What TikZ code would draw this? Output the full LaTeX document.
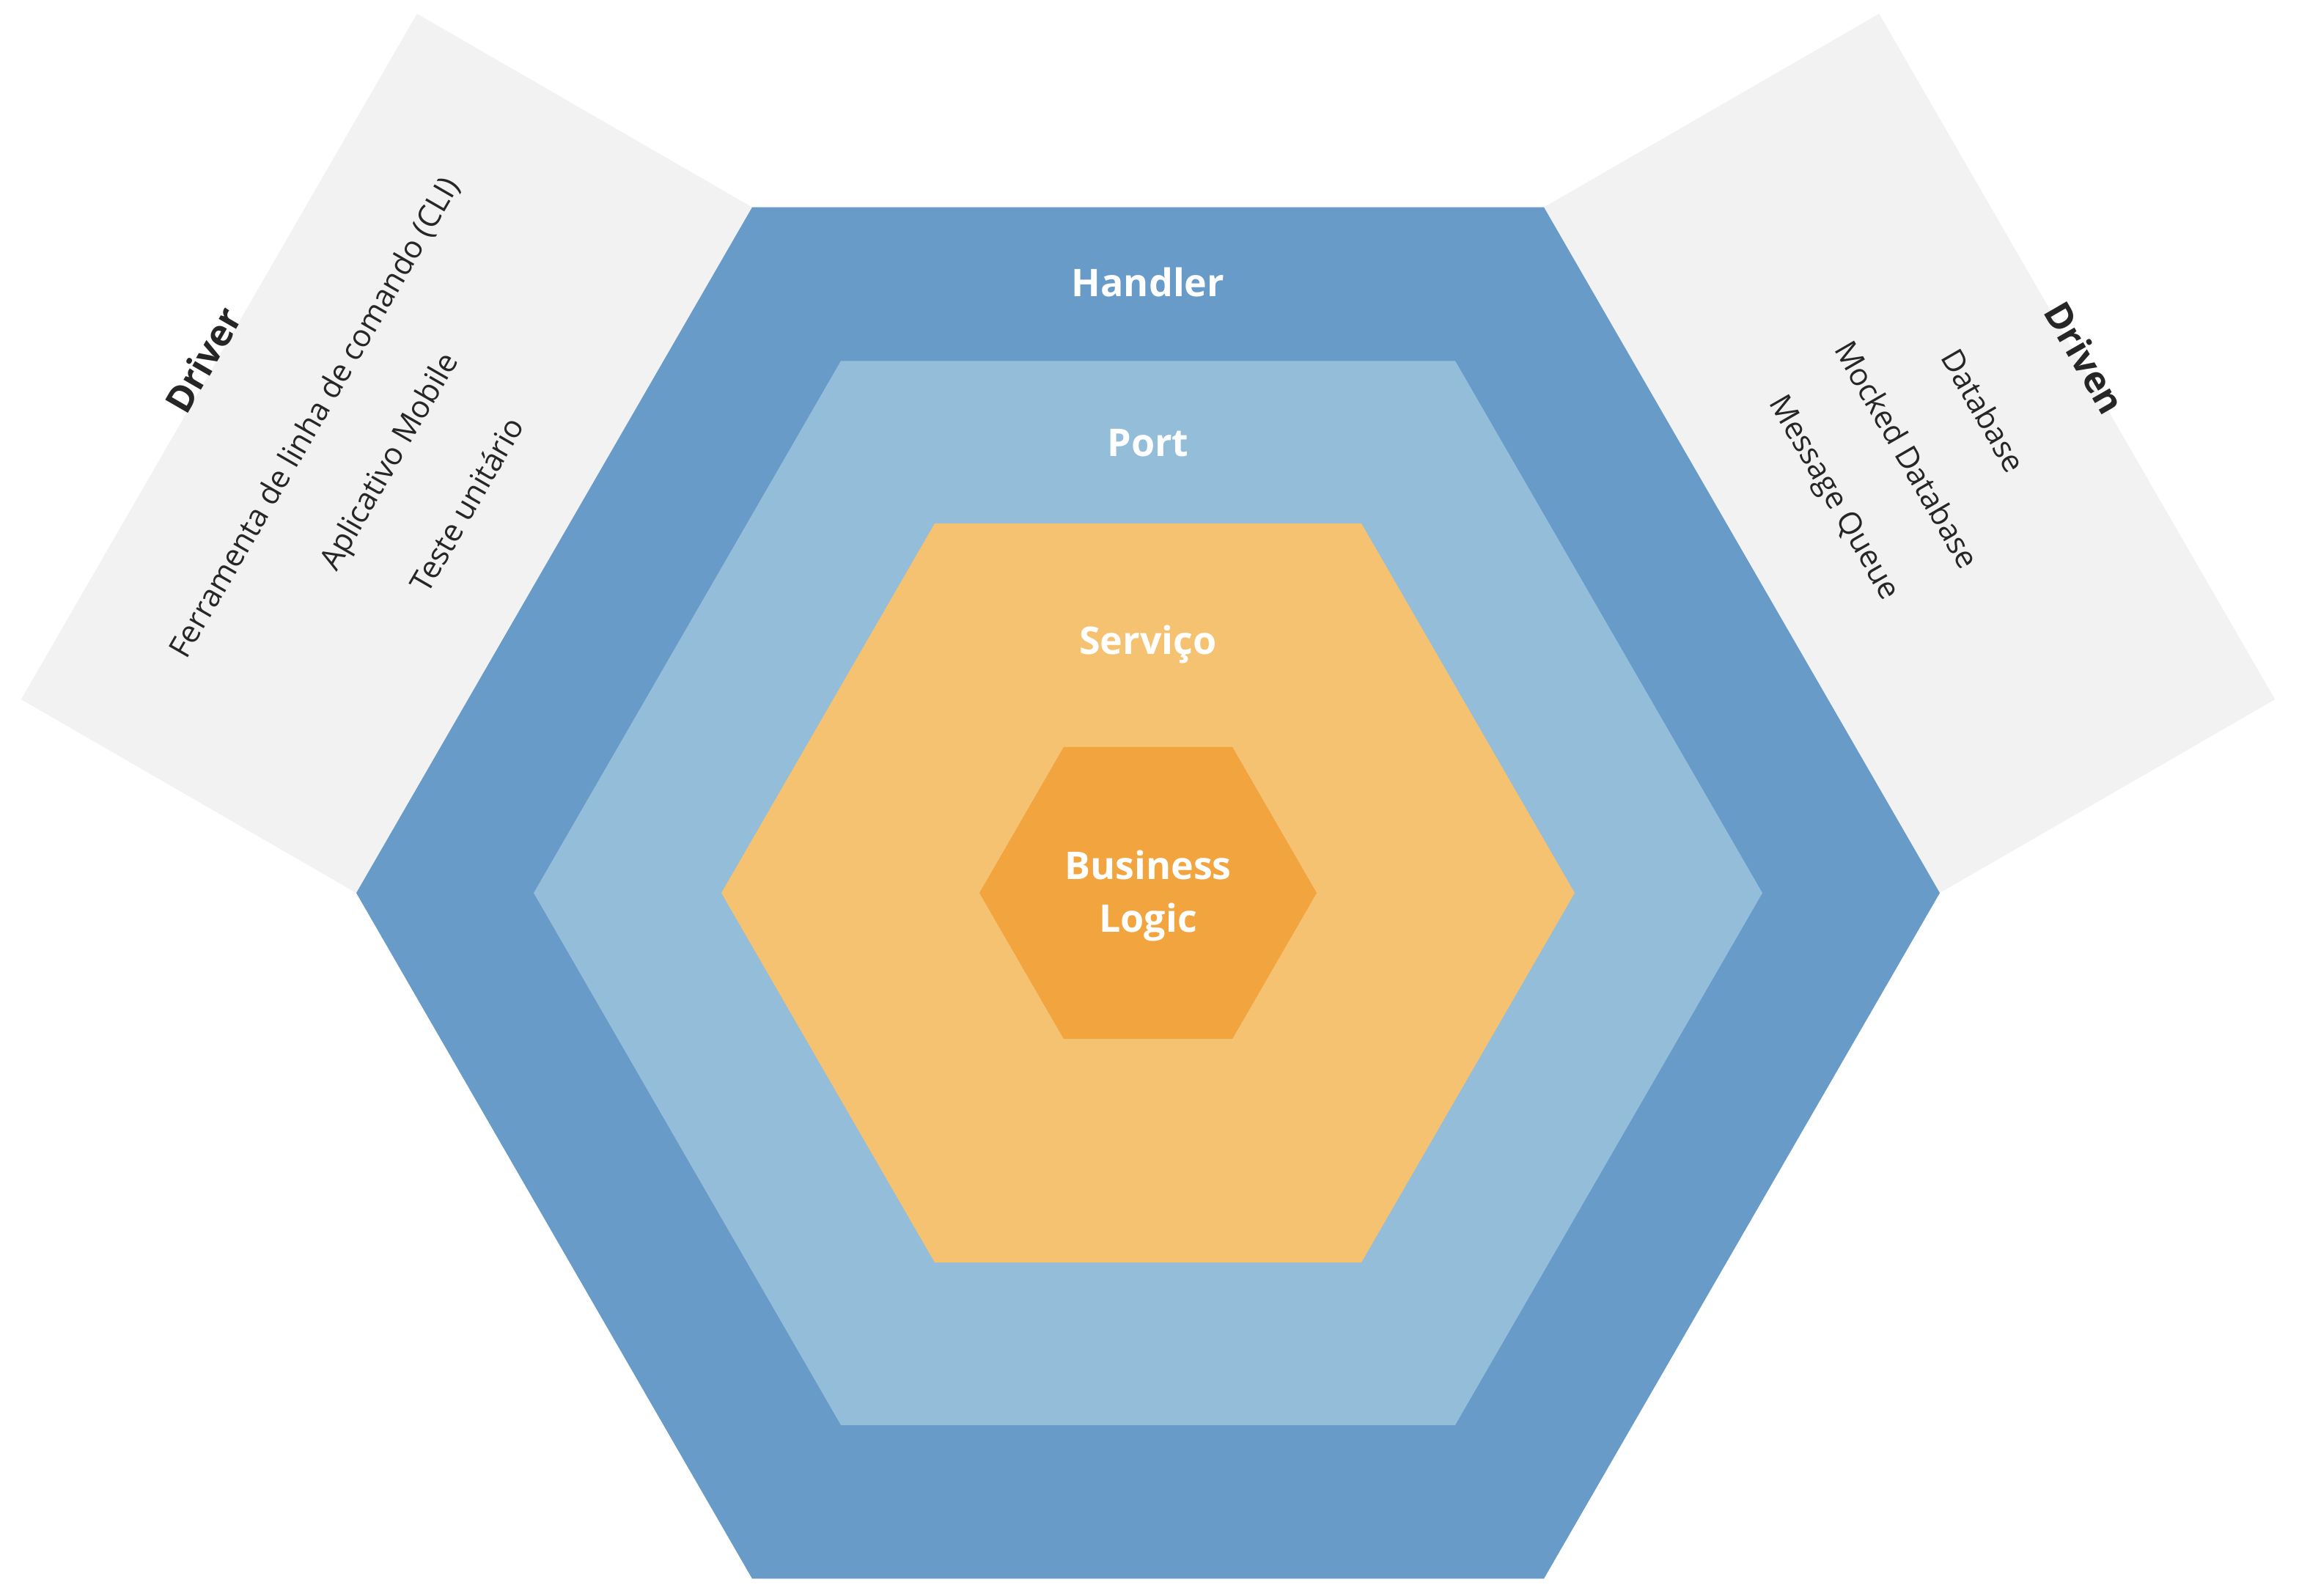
\documentclass[tikz,border=0pt]{standalone}
\usepackage{fontspec}
\setmainfont{Open Sans}
\definecolor{hexA}{HTML}{689BC8}
\definecolor{hexB}{HTML}{93BDD9}
\definecolor{hexC}{HTML}{F5C272}
\definecolor{hexD}{HTML}{F2A43F}
\definecolor{panelgray}{HTML}{F2F2F2}
\definecolor{txtdark}{HTML}{262626}
\tikzset{
  layerlabel/.style={text=white, font=\fontsize{26pt}{36pt}\selectfont\bfseries, inner sep=0pt, align=center},
  sidetitle/.style={text=txtdark, font=\fontsize{25pt}{30pt}\selectfont\bfseries, inner sep=0pt},
  sideitem/.style={text=txtdark, font=\fontsize{21pt}{26pt}\selectfont, inner sep=0pt},
}
\begin{document}
\begin{tikzpicture}[x=1pt,y=-1pt]
\useasboundingbox (0,0) rectangle (1568,1088);
\coordinate (c) at (783,609);
% side panels
\fill[panelgray] (284.4,9.35) -- (513,141.35) -- (243,609) -- (14.4,477) -- cycle;
\fill[panelgray] (1281.6,9.35) -- (1053,141.35) -- (1323,609) -- (1551.6,477) -- cycle;
% hexagons
\fill[hexA] (c) ++(540,0) -- ++(120:540) -- ++(180:540) -- ++(240:540) -- ++(300:540) -- ++(0:540) -- cycle;
\fill[hexB] (c) ++(419,0) -- ++(120:419) -- ++(180:419) -- ++(240:419) -- ++(300:419) -- ++(0:419) -- cycle;
\fill[hexC] (c) ++(291,0) -- ++(120:291) -- ++(180:291) -- ++(240:291) -- ++(300:291) -- ++(0:291) -- cycle;
\fill[hexD] (c) ++(115,0) -- ++(120:115) -- ++(180:115) -- ++(240:115) -- ++(300:115) -- ++(0:115) -- cycle;
% layer labels
\node[layerlabel, anchor=base] (handler) at (783,202) {Handler};
\node[layerlabel, anchor=base] (port) at (783,311) {Port};
\node[layerlabel, anchor=base] (servico) at (783,446) {Serviço};
\node[layerlabel] (business) at (783,611) {Business\\Logic};
% driver side
\node[sidetitle, rotate=60] (driver) at (138.5,245.5) {Driver};
\node[sideitem, rotate=60] (cli) at (215,285) {Ferramenta de linha de comando (CLI)};
\node[sideitem, rotate=60] (mobile) at (266.5,315.5) {Aplicativo Mobile};
\node[sideitem, rotate=60] (teste) at (318,344) {Teste unitário};
% driven side
\node[sidetitle, rotate=-60] (driven) at (1422,244) {Driven};
\node[sideitem, rotate=-60] (db) at (1353,280) {Database};
\node[sideitem, rotate=-60] (mockdb) at (1301,310) {Mocked Database};
\node[sideitem, rotate=-60] (mq) at (1250,340) {Message Queue};
\end{tikzpicture}
\end{document}
